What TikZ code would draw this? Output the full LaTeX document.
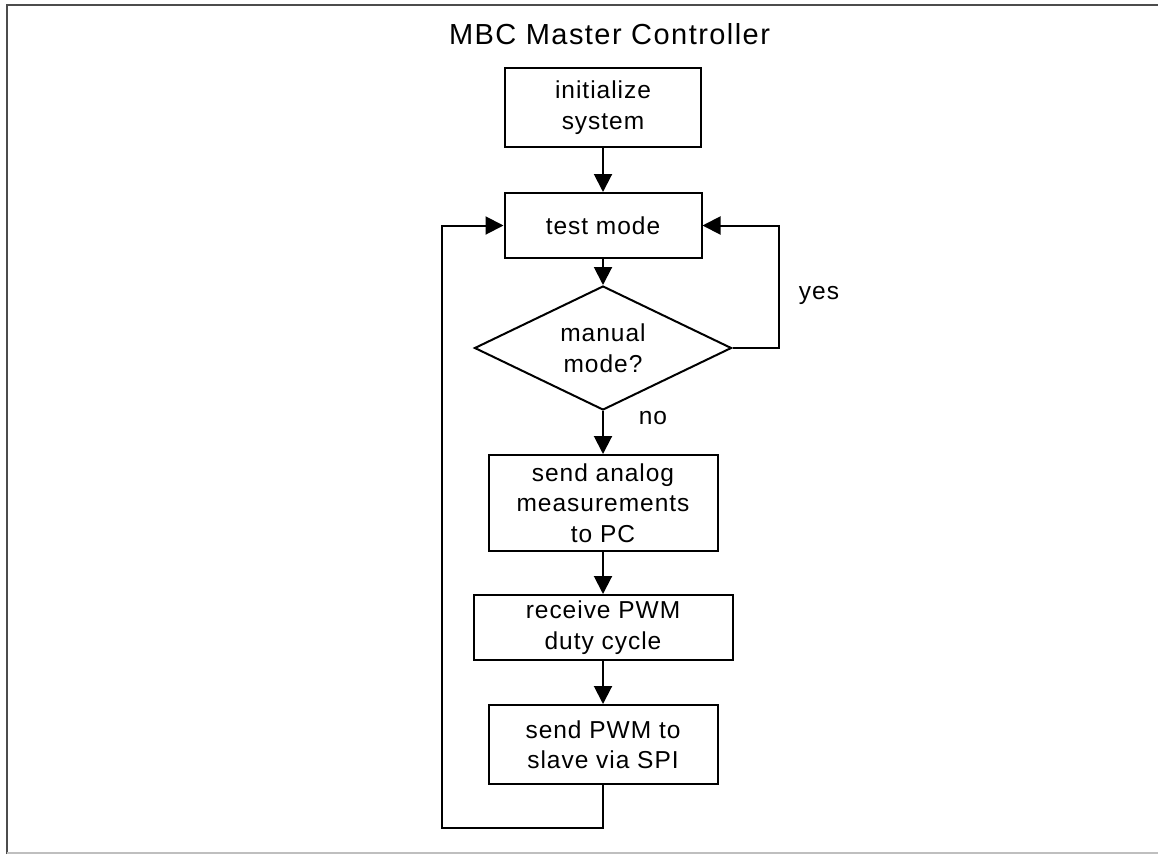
\documentclass[tikz,border=0pt]{standalone}
\usepackage{fontspec}
\setmainfont{Liberation Sans}
\newfontfamily\boxfont[LetterSpace=4]{Liberation Sans}
\newfontfamily\titlefont[LetterSpace=5]{Liberation Sans}
\usetikzlibrary{arrows.meta,shapes.geometric}
\begin{document}
\begin{tikzpicture}[x=1pt,y=-1pt,
  line width=2pt,
  every node/.style={font=\boxfont\fontsize{24.5}{30.5}\selectfont, align=center, inner sep=0pt},
  procbox/.style={draw, rectangle},
  decision/.style={draw, diamond, aspect=2.07},
  flow/.style={-{Triangle[length=18pt,width=18pt]}},
  frameline/.style={line width=2pt, draw=black!70},
  framelight/.style={line width=2pt, draw=black!25}
]
\useasboundingbox (0,0) rectangle (1158,854);

% outer frame
\draw[frameline] (7,854) -- (7,4.5) -- (1158,4.5);
\draw[framelight] (7,853) -- (1158,853);

% title
\node[font=\titlefont\fontsize{29}{34}\selectfont, anchor=base] (title) at (609.5,44) {MBC Master Controller};

% process steps
\node[procbox, minimum width=196pt, minimum height=79pt] (init) at (603,107.5) {initialize\\system};
\node[procbox, minimum width=197pt, minimum height=65pt] (test) at (603,225.5) {test mode};
\node[decision, minimum width=257pt, minimum height=124pt] (dia) at (603,348) {manual\\mode?};
\node[procbox, minimum width=229pt, minimum height=96pt] (analog) at (603,503) {send analog\\measurements\\to PC};
\node[procbox, minimum width=259pt, minimum height=65pt] (recv) at (603,627.5) {receive PWM\\duty cycle};
\node[procbox, minimum width=229pt, minimum height=79pt] (spi) at (603,744.5) {send PWM to\\slave via SPI};

% branch labels
\node (yes) at (819,295) {yes};
\node (no) at (653,418) {no};

% loop corners
\coordinate (yesR) at (779,348);
\coordinate (loopB) at (603,828);
\coordinate (loopL) at (442,828);

% main flow
\draw[flow] (init) -- (test);
\draw[flow] (test) -- (dia);
\draw[flow] (dia) -- (analog);
\draw[flow] (analog) -- (recv);
\draw[flow] (recv) -- (spi);

% manual mode loop
\draw[flow] (dia.east) -- (yesR) |- (test.east);

% return loop
\draw[flow] (spi.south) -- (loopB) -- (loopL) |- (test.west);
\end{tikzpicture}
\end{document}
